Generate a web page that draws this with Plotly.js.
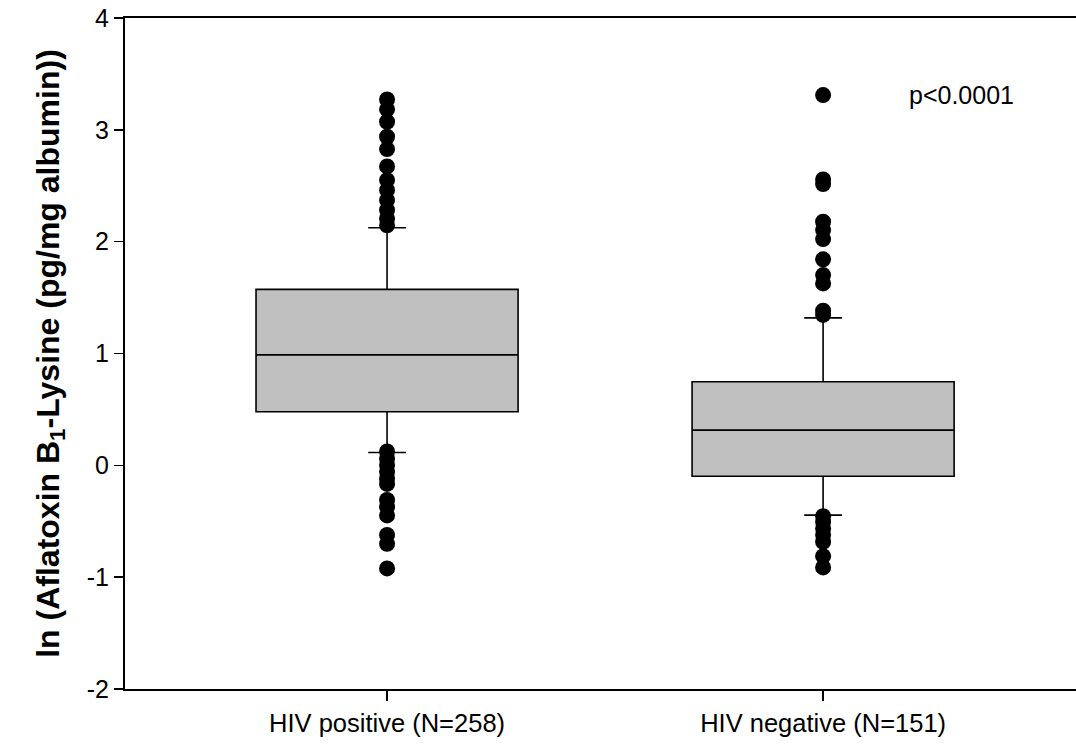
<!DOCTYPE html>
<html>
<head>
<meta charset="utf-8">
<script src="https://cdn.plot.ly/plotly-3.0.1.min.js"></script>
<style>html,body{margin:0;padding:0;background:#fff;}#chart{width:1076px;height:746px;}</style>
</head>
<body>
<div id="chart"></div>
<script>
// Data
var categories = ['HIV positive (N=258)', 'HIV negative (N=151)'];
var positions = [0, 1];
var q1 = [0.479, -0.097];
var median = [0.988, 0.315];
var q3 = [1.573, 0.747];
var lowerWhisker = [0.115, -0.445];
var upperWhisker = [2.125, 1.319];
var outliersHIVpos = [3.272, 3.183, 3.072, 2.938, 2.828, 2.673, 2.551, 2.461, 2.372, 2.283, 2.208, 2.146,
  0.124, 0.062, 0.002, -0.058, -0.117, -0.166, -0.309, -0.371, -0.448, -0.622, -0.702, -0.922];
var outliersHIVneg = [3.311, 2.557, 2.515, 2.178, 2.104, 2.023, 1.842, 1.701, 1.627, 1.382, 1.345,
  -0.455, -0.505, -0.564, -0.624, -0.684, -0.812, -0.913];
var yTickVals = [-2, -1, 0, 1, 2, 3, 4];
var yTickText = ['-2', '-1', '0', '1', '2', '3', '4'];
var pText = 'p<0.0001';

var fontFam = '"Liberation Sans", Arial, sans-serif';

var traces = [];
for (var i = 0; i < categories.length; i++) {
  traces.push({
    type: 'box',
    x: [positions[i]],
    q1: [q1[i]],
    median: [median[i]],
    q3: [q3[i]],
    lowerfence: [lowerWhisker[i]],
    upperfence: [upperWhisker[i]],
    width: 0.601,
    whiskerwidth: 0.144,
    fillcolor: '#c0c0c0',
    line: {color: '#000000', width: 1.6},
    boxpoints: false,
    hoverinfo: 'skip',
    showlegend: false
  });
}
var outlierSets = [outliersHIVpos, outliersHIVneg];
for (var j = 0; j < outlierSets.length; j++) {
  traces.push({
    type: 'scatter',
    mode: 'markers',
    x: outlierSets[j].map(function(){ return positions[j]; }),
    y: outlierSets[j],
    marker: {color: '#000000', size: 16, line: {width: 0}},
    hoverinfo: 'skip',
    showlegend: false
  });
}

var layout = {
  width: 1076,
  height: 746,
  margin: {l: 125, r: 0, t: 18, b: 57},
  paper_bgcolor: '#ffffff',
  plot_bgcolor: '#ffffff',
  font: {family: fontFam, size: 25, color: '#000000'},
  showlegend: false,
  xaxis: {
    range: [-0.601, 1.58],
    tickmode: 'array',
    tickvals: positions,
    ticktext: categories,
    ticks: 'outside',
    ticklen: 10,
    tickwidth: 1.5,
    tickcolor: '#000',
    showline: true,
    linecolor: '#000',
    linewidth: 2,
    mirror: true,
    showgrid: false,
    zeroline: false,
    tickfont: {family: fontFam, size: 25.5, color: '#000'}
  },
  yaxis: {
    range: [-2, 4],
    tickmode: 'array',
    tickvals: yTickVals,
    ticktext: yTickText,
    ticks: 'outside',
    ticklen: 9,
    tickwidth: 1.5,
    tickcolor: '#000',
    showline: true,
    linecolor: '#000',
    linewidth: 2,
    showgrid: false,
    zeroline: false,
    tickfont: {family: fontFam, size: 25, color: '#000'},
    title: {
      text: 'ln (Aflatoxin B<sub>1</sub>-Lysine (pg/mg albumin))',
      font: {family: fontFam, size: 32, color: '#000', weight: 'bold'},
      standoff: 18
    }
  },
  annotations: [{
    x: 1.193, y: 3.311, xref: 'x', yref: 'y',
    text: pText, showarrow: false, xanchor: 'left', yanchor: 'middle',
    font: {family: fontFam, size: 25, color: '#000'}
  }]
};

Plotly.newPlot('chart', traces, layout, {displayModeBar: false, staticPlot: true});
</script>
</body>
</html>
